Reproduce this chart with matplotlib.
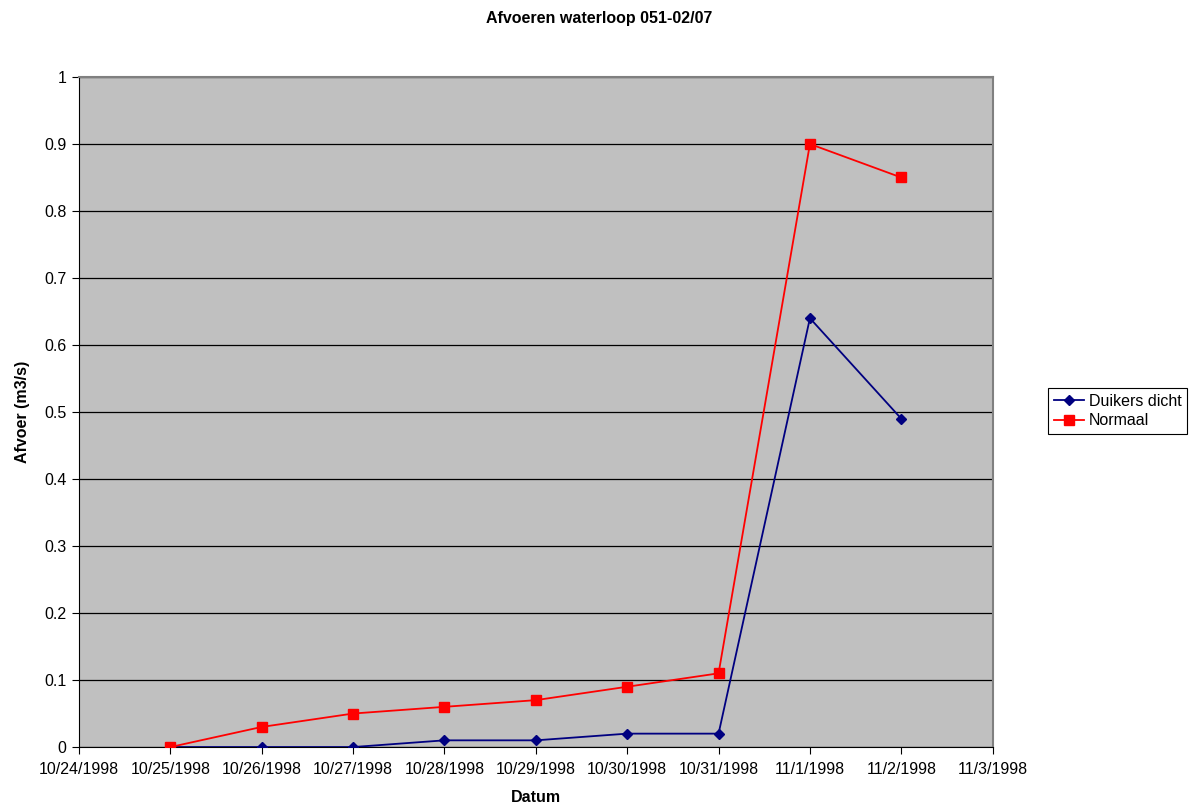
import matplotlib.pyplot as plt
import matplotlib.dates as mdates
import numpy as np
from datetime import datetime

plt.rcParams['font.family'] = ['Liberation Sans', 'DejaVu Sans']

# afvoermetingen per dag
datums = ['10/25/1998', '10/26/1998', '10/27/1998', '10/28/1998', '10/29/1998',
          '10/30/1998', '10/31/1998', '11/1/1998', '11/2/1998']
duikers_dicht = [0.0, 0.0, 0.0, 0.01, 0.01, 0.02, 0.02, 0.64, 0.49]
normaal = [0.0, 0.03, 0.05, 0.06, 0.07, 0.09, 0.11, 0.90, 0.85]

x = [datetime.strptime(d, '%m/%d/%Y') for d in datums]

fs = 11.5

fig = plt.figure(figsize=(11.99, 8.07), dpi=100)
ax = fig.add_axes([0.0659, 0.0743, 0.762, 0.8303])
ax.set_facecolor('#C0C0C0')

ax.plot(x, duikers_dicht, color='#000080', lw=1.3, marker='D', ms=5,
        label='Duikers dicht', zorder=3)
ax.plot(x, normaal, color='#FF0000', lw=1.3, marker='s', ms=7,
        label='Normaal', zorder=4)

ax.set_xlim(datetime(1998, 10, 24), datetime(1998, 11, 3))
ax.set_ylim(0, 1)
ax.set_yticks(np.arange(0, 1.01, 0.1))
ax.set_yticklabels(['0', '0.1', '0.2', '0.3', '0.4', '0.5', '0.6', '0.7', '0.8', '0.9', '1'])
ax.xaxis.set_major_locator(mdates.DayLocator())
ticks = ax.get_xticks()
ax.set_xticks(ticks)
ax.set_xticklabels([f'{d.month}/{d.day}/{d.year}' for d in mdates.num2date(ticks)])

ax.yaxis.grid(True, color='black', lw=0.9)
ax.set_axisbelow(True)
# grijze rand boven en rechts van het plotgebied
for s in ['top', 'right']:
    ax.spines[s].set_color('#808080')
    ax.spines[s].set_linewidth(1.5)
ax.tick_params(labelsize=fs, length=5, color='black')
ax.tick_params(axis='x', pad=6)
ax.tick_params(axis='y', pad=4)

fig.text(0.5, 1 - 18 / 807, 'Afvoeren waterloop 051-02/07', fontsize=fs,
         fontweight='bold', ha='center', va='center')
ax.set_xlabel('Datum', fontsize=fs, fontweight='bold', labelpad=9)
ax.set_ylabel('Afvoer (m3/s)', fontsize=fs, fontweight='bold', labelpad=10)

leg = fig.legend(loc='center left', bbox_to_anchor=(1048 / 1199, 1 - 411 / 807),
                 borderaxespad=0, fontsize=fs,
                 frameon=True, fancybox=False, edgecolor='black', framealpha=1,
                 handlelength=1.9, borderpad=0.35, labelspacing=0.3, handletextpad=0.3)
leg.get_frame().set_linewidth(0.8)

fig.savefig('out.png', dpi=100)
